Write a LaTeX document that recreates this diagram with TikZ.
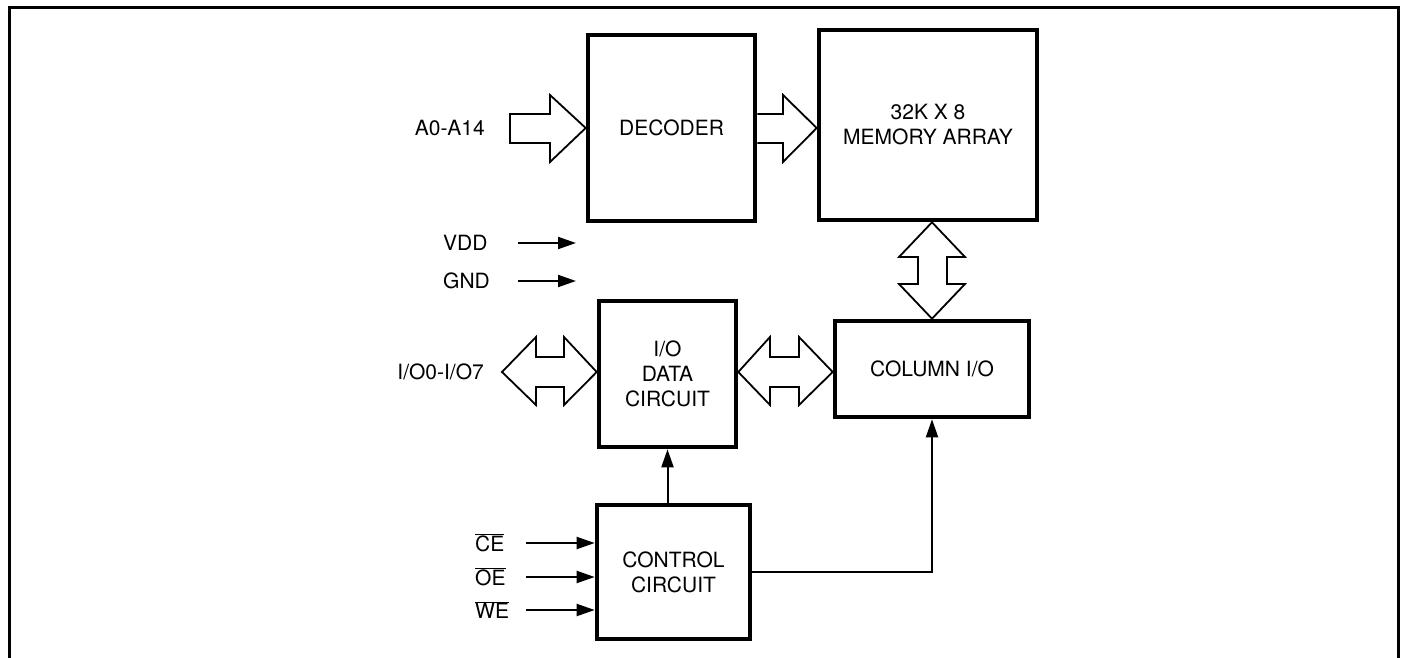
\documentclass[tikz,border=0pt]{standalone}
\usepackage{fontspec}
\setmainfont{TeX Gyre Heros}
\usetikzlibrary{arrows.meta,calc}
\begin{document}
\begin{tikzpicture}[x=1pt,y=-1pt,
  font=\fontsize{21}{25}\selectfont,
  blk/.style={draw,line width=4.6pt,inner sep=0pt,align=center},
  lbl/.style={inner sep=0pt},
  arr/.style={line width=2pt,-{Triangle[length=18pt,width=12pt]}},
  hollow/.style={line width=1.8pt,line join=miter,fill=white}]
\useasboundingbox (0,0) rectangle (1401,658);
% frame
\draw[line width=3pt] (9.5,658) -- (9.5,7.5) -- (1398.5,7.5) -- (1398.5,658);
% blocks
\node[blk,minimum width=167pt,minimum height=186pt] (dec) at (671.5,128) {DECODER};
\node[blk,minimum width=218pt,minimum height=190pt] (mem) at (928,125) {32K X 8\\MEMORY ARRAY};
\node[blk,minimum width=137pt,minimum height=146pt] (io) at (667.5,374) {I/O\\DATA\\CIRCUIT};
\node[blk,minimum width=194pt,minimum height=96pt] (col) at (932,369) {COLUMN I/O};
\node[blk,minimum width=153pt,minimum height=134pt] (ctl) at (673.5,572) {CONTROL\\CIRCUIT};
% labels
\node[lbl,anchor=east] (a) at (485,128) {A0-A14};
\node[lbl,anchor=west] (vdd) at (443,243) {VDD};
\node[lbl,anchor=west] (gnd) at (443,281) {GND};
\node[lbl,anchor=east] (iol) at (484,372) {I/O0-I/O7};
\node[lbl,anchor=west] (ce) at (475,543) {$\overline{\mbox{CE}}$};
\node[lbl,anchor=west] (oe) at (475,577) {$\overline{\mbox{OE}}$};
\node[lbl,anchor=west] (we) at (475,610) {$\overline{\mbox{WE}}$};
% hollow arrow: address in
\draw[hollow] (510,114) -- (550,114) -- (550,95) -- (dec.west) -- (550,162) -- (550,143) -- (510,143) -- cycle;
% hollow arrow: decoder -> memory
\draw[hollow] (dec.east |- 0,114) -- (783,114) -- (783,95) -- (mem.west |- 0,128) -- (783,162) -- (783,143) -- (dec.east |- 0,143);
% double arrow: I/O pins <-> I/O data
\draw[hollow] (502,372) -- (536,337) -- (536,357) -- (564,357) -- (564,337) -- (io.west |- 0,372)
  -- (564,405) -- (564,387) -- (536,387) -- (536,405) -- cycle;
% double arrow: I/O data <-> column I/O
\draw[hollow] (io.east |- 0,372) -- (770,337) -- (770,357) -- (799,357) -- (799,337) -- (col.west |- 0,372)
  -- (799,405) -- (799,387) -- (770,387) -- (770,405) -- cycle;
% vertical double arrow: memory <-> column I/O
\draw[hollow] (mem.south -| col.north) -- (965,257) -- (947,257) -- (947,284) -- (965,284) -- (col.north)
  -- (899,284) -- (918,284) -- (918,257) -- (899,257) -- cycle;
% thin arrows
\coordinate (vddS) at (518,243);
\coordinate (vddE) at (576,243);
\coordinate (gndS) at (518,281);
\coordinate (gndE) at (576,281);
\draw[arr] (vddS) -- (vddE);
\draw[arr] (gndS) -- (gndE);
\coordinate (ceS) at (526,543);
\coordinate (oeS) at (526,577);
\coordinate (weS) at (526,610);
\draw[arr] (ceS) -- (ceS -| ctl.west);
\draw[arr] (oeS) -- (oeS -| ctl.west);
\draw[arr] (weS) -- (weS -| ctl.west);
\draw[arr] (ctl.north -| io.south) -- (io.south);
\draw[arr] (ctl.east) -| (col.south);
\end{tikzpicture}
\end{document}
